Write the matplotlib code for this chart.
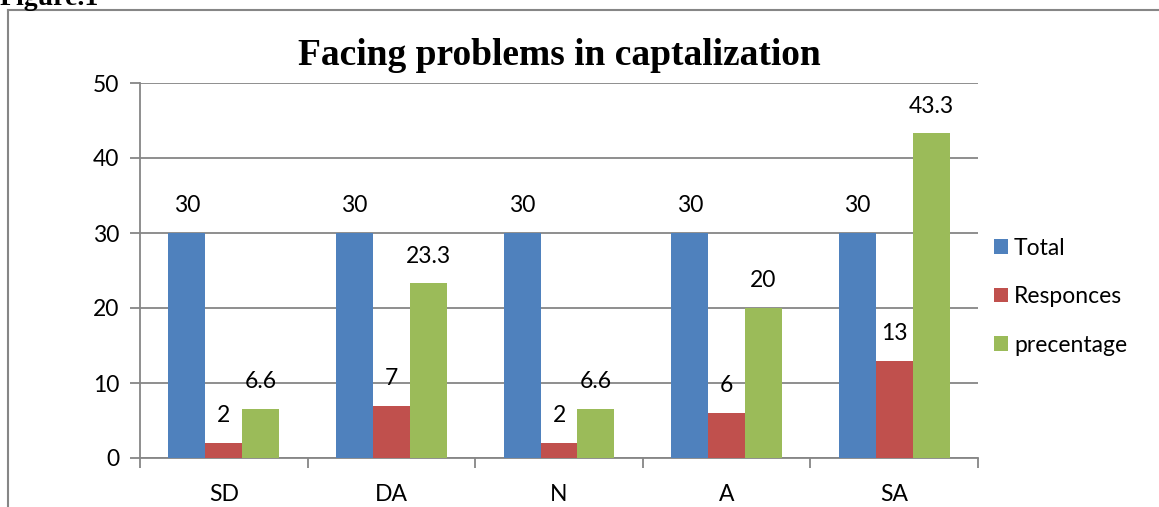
import numpy as np
import matplotlib
matplotlib.use('Agg')
import matplotlib.pyplot as plt
from matplotlib.lines import Line2D

categories = ['SD', 'DA', 'N', 'A', 'SA']
total = [30, 30, 30, 30, 30]
responces = [2, 7, 2, 6, 13]
precentage = [6.6, 23.3, 6.6, 20, 43.3]
series_names = ['Total', 'Responces', 'precentage']
colors = ['#4F81BD', '#C0504D', '#9BBB59']

plt.rcParams['font.family'] = ['Lato', 'DejaVu Sans']

fig = plt.figure(figsize=(11.59, 5.07), dpi=100)
ax = fig.add_axes([140 / 1159, 49 / 507, 838 / 1159, 375 / 507])

x = np.arange(len(categories))
w = 0.22
for i, (vals, name) in enumerate(zip([total, responces, precentage], series_names)):
    bars = ax.bar(x + (i - 1) * w, vals, w, color=colors[i], label=name, zorder=3)
    for b, v in zip(bars, vals):
        ax.annotate(f'{v:g}', (b.get_x() + b.get_width() / 2, v),
                    xytext=(0, 19.5), textcoords='offset points',
                    ha='center', va='center', fontsize=16.5)

ax.set_xlim(-0.5, len(categories) - 0.5)
ax.set_ylim(0, 50)
ax.set_yticks(range(0, 51, 10))
ax.yaxis.grid(True, color='#868686', linewidth=1.3, zorder=0)
ax.set_xticks(np.arange(-0.5, len(categories), 1))
ax.set_xticklabels([])
ax.set_xticks(x, minor=True)
ax.set_xticklabels(categories, minor=True)
ax.tick_params(axis='x', which='minor', length=0, pad=19, labelsize=16.5)
ax.tick_params(axis='x', which='major', length=7, width=1.3, color='#868686')
ax.tick_params(axis='y', length=7, width=1.3, color='#868686', labelsize=16.5, pad=8)
for s in ['top', 'right']:
    ax.spines[s].set_visible(False)
for s in ['left', 'bottom']:
    ax.spines[s].set_color('#868686')
    ax.spines[s].set_linewidth(1.3)

ax.set_title('Facing problems in captalization', family='Liberation Serif',
             fontweight='bold', fontsize=27, pad=13)

leg = ax.legend(loc='center left', bbox_to_anchor=(0.995, 0.43), frameon=False,
                fontsize=16.5, handlelength=0.6, handleheight=0.6, handletextpad=0.25,
                labelspacing=1.2)

# outer chart frame
fig.add_artist(Line2D([8 / 1159, 1], [1 - 10 / 507, 1 - 10 / 507], color='#868686', lw=1.5))
fig.add_artist(Line2D([8 / 1159, 8 / 1159], [0, 1 - 10 / 507], color='#868686', lw=1.5))
fig.text(0.0, 1 - 5 / 507, 'Figure.1', family='Liberation Serif', fontweight='bold',
         fontsize=20, va='baseline')

fig.savefig('out.png', dpi=100)
